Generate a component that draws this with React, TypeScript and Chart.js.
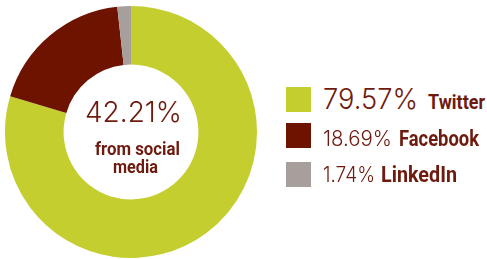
import React, { useEffect, useLayoutEffect, useRef } from "react";
import { Chart, registerables } from "chart.js";

Chart.register(...registerables);

const labels = ["Twitter", "Facebook", "LinkedIn"];
const values = [79.57, 18.69, 1.74];
const valueTexts = ["79.57%", "18.69%", "1.74%"];
const colors = ["#C4CE2F", "#6E1300", "#A69F9B"];
const centerValue = "42.21%";
const centerLabel = ["from social", "media"];

const TEXT = "#6E1A0E";
const THIN = "Inter, Lato, 'DejaVu Sans', sans-serif";
const BOLD = "Roboto, 'Liberation Sans', sans-serif";

type TProps = {
  text: string;
  x: number;
  baseline: number;
  size: number;
  family: string;
  weight: number;
  width: number;
  align?: "left" | "center";
};

function T({ text, x, baseline, size, family, weight, width, align = "left" }: TProps) {
  const outer = useRef<HTMLDivElement | null>(null);
  const inner = useRef<HTMLSpanElement | null>(null);
  const mark = useRef<HTMLSpanElement | null>(null);
  useLayoutEffect(() => {
    const o = outer.current, s = inner.current, m = mark.current;
    if (!o || !s || !m) return;
    o.style.top = "0px";
    const ob = o.getBoundingClientRect();
    const mb = m.getBoundingClientRect();
    const off = mb.bottom - ob.top;
    o.style.top = `${baseline - off}px`;
    const w = s.getBoundingClientRect().width;
    const k = w > 0 ? width / w : 1;
    const left = align === "center" ? x - width / 2 : x;
    o.style.left = `${left}px`;
    s.style.transform = `scaleX(${k})`;
  });
  return (
    <div
      ref={outer}
      style={{
        position: "absolute",
        left: x,
        top: 0,
        whiteSpace: "nowrap",
        color: TEXT,
        fontFamily: family,
        fontWeight: weight,
        fontSize: size,
        lineHeight: 1,
      }}
    >
      <span ref={inner} style={{ display: "inline-block", transformOrigin: "0 0" }}>{text}</span>
      <span ref={mark} style={{ display: "inline-block", width: 0, height: 0 }} />
    </div>
  );
}

export default function App() {
  const ref = useRef<HTMLCanvasElement | null>(null);

  useEffect(() => {
    document.body.style.margin = "0";
    const canvas = ref.current;
    if (!canvas) return;
    const chart = new Chart(canvas, {
      type: "doughnut",
      data: {
        labels,
        datasets: [
          {
            data: values,
            backgroundColor: colors,
            borderWidth: 0,
          },
        ],
      },
      options: {
        responsive: false,
        animation: false,
        cutout: "53.5%",
        layout: { padding: 0 },
        plugins: { legend: { display: false }, tooltip: { enabled: false } },
      },
    });
    return () => chart.destroy();
  }, []);

  const squareTops = [87, 123, 162];
  const numSizes = [28, 21, 21];
  const numWidths = [95, 69, 52];
  const baselines = [109, 146, 182];
  const labelX = [428, 399, 381];
  const labelWidths = [57, 80, 76];
  const labelSizes = [20.5, 22, 22];

  return (
    <div style={{ position: "relative", width: 487, height: 259, background: "#fff", overflow: "hidden" }}>
      <canvas ref={ref} width={252} height={252} style={{ position: "absolute", left: 5, top: 6 }} />
      <T text={centerValue} x={133.5} baseline={122} size={29} family={THIN} weight={300} width={97} align="center" />
      <T text={centerLabel[0]} x={137.5} baseline={155} size={18} family={BOLD} weight={700} width={85} align="center" />
      <T text={centerLabel[1]} x={135} baseline={172.5} size={18} family={BOLD} weight={700} width={45} align="center" />
      {labels.map((l, i) => (
        <React.Fragment key={l}>
          <div style={{ position: "absolute", left: 286, top: squareTops[i], width: 25, height: 25, background: colors[i] }} />
          <T text={valueTexts[i]} x={323} baseline={baselines[i]} size={numSizes[i]} family={THIN} weight={300} width={numWidths[i]} />
          <T text={l} x={labelX[i]} baseline={baselines[i]} size={labelSizes[i]} family={BOLD} weight={700} width={labelWidths[i]} />
        </React.Fragment>
      ))}
    </div>
  );
}
